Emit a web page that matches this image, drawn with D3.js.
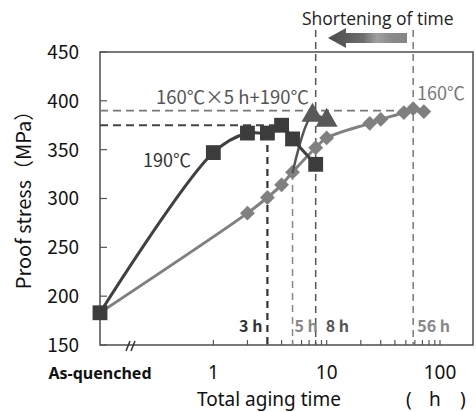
<!DOCTYPE html>
<html>
<head>
<meta charset="utf-8">
<title>Proof stress vs aging time</title>
<script src="https://cdn.jsdelivr.net/npm/d3@7"></script>
<style>
  body { margin: 0; background: #fff; }
  svg { font-family: "Noto Sans CJK JP", "Noto Sans", sans-serif; }
  .tick-label { font-size: 19px; fill: #111; }
  .latin { font-family: "Noto Sans", sans-serif; }
</style>
</head>
<body>
<div id="chart"></div>
<script>
// aging time in hours (0.1 = as-quenched position), proof stress in MPa
var t190 = [0.1, 1, 2, 3, 4, 5, 8];
var s190 = [183, 347, 367, 367, 375, 361, 335];

var t160 = [0.1, 2, 3, 4, 5, 8, 10, 24, 30, 48, 58, 72];
var s160 = [183, 285, 301, 314, 327, 352, 362, 377, 381, 388, 392, 389];

var tTwoStep = [5, 7.5, 10];
var sTwoStep = [326, 385, 380];

var yTicks = [150, 200, 250, 300, 350, 400, 450];
var xLabelValues = [0.1, 1, 10, 100];
var xLabelTexts = ["As-quenched", "1", "10", "100"];

var refLevels = [375, 390];
var markTimes = [3, 5, 8, 58];
var markLabels = ["3 h", "5 h", "8 h", "56 h"];

var W = 476, H = 412;
var pL = 100, pR = 473, pT = 52, pB = 345;

var x = d3.scaleLog().domain([0.1, 100]).range([100, 440]);
var y = d3.scaleLinear().domain([150, 450]).range([pB, pT]);

var svg = d3.select("#chart").append("svg")
    .attr("width", W)
    .attr("height", H);

var defs = svg.append("defs");
var grad = defs.append("linearGradient").attr("id", "arrowGrad");
grad.append("stop").attr("offset", "0%").attr("stop-color", "#4a4a4a");
grad.append("stop").attr("offset", "45%").attr("stop-color", "#6e6e6e");
grad.append("stop").attr("offset", "62%").attr("stop-color", "#a0a0a0");
grad.append("stop").attr("offset", "80%").attr("stop-color", "#8a8a8a");
grad.append("stop").attr("offset", "100%").attr("stop-color", "#858585");

// frame
svg.append("rect")
    .attr("x", pL).attr("y", pT)
    .attr("width", pR - pL).attr("height", pB - pT)
    .attr("fill", "none").attr("stroke", "#4d4d4d").attr("stroke-width", 1.5);

// y ticks (inside)
svg.selectAll(".ytick").data(yTicks).enter().append("line")
    .attr("x1", pL).attr("x2", pL + 7)
    .attr("y1", function(d) { return y(d); })
    .attr("y2", function(d) { return y(d); })
    .attr("stroke", "#555").attr("stroke-width", 1.2);

svg.selectAll(".ylab").data(yTicks).enter().append("text")
    .attr("class", "tick-label")
    .attr("x", 79)
    .attr("y", function(d) { return y(d); })
    .attr("dy", "0.36em")
    .attr("text-anchor", "end")
    .text(function(d) { return d; });

// x log ticks (inside), 1..100
var minor = [];
[1, 10].forEach(function(dec) {
    for (var k = 1; k < 10; k++) minor.push(dec * k);
});
minor.push(100);
svg.selectAll(".xtick").data(minor).enter().append("line")
    .attr("x1", function(d) { return x(d); })
    .attr("x2", function(d) { return x(d); })
    .attr("y1", pB).attr("y2", pB - 5)
    .attr("stroke", "#555").attr("stroke-width", 1.2);

// axis break
[0, 5].forEach(function(o) {
    svg.append("line")
        .attr("x1", 126 + o).attr("y1", 351)
        .attr("x2", 130 + o).attr("y2", 341)
        .attr("stroke", "#333").attr("stroke-width", 1.5);
});

svg.selectAll(".xlab").data(xLabelValues).enter().append("text")
    .attr("class", "latin")
    .attr("x", function(d) { return x(d); })
    .attr("y", 379)
    .attr("text-anchor", "middle")
    .style("font-size", function(d, i) { return i === 0 ? "16px" : "19px"; })
    .style("font-weight", function(d, i) { return i === 0 ? "bold" : "normal"; })
    .attr("fill", "#111")
    .text(function(d, i) { return xLabelTexts[i]; });

// axis titles
var xt = svg.append("text")
    .attr("class", "latin")
    .attr("y", 406)
    .style("font-size", "19px").attr("fill", "#111");
xt.append("tspan").attr("x", 197).text("Total aging time");
xt.append("tspan").attr("x", 406).text("(");
xt.append("tspan").attr("x", 429).text("h");
xt.append("tspan").attr("x", 460).text(")");

svg.append("text")
    .attr("transform", "translate(31,195) rotate(-90)")
    .attr("text-anchor", "middle")
    .style("font-size", "20px").attr("fill", "#111")
    .text("Proof stress（MPa）");

// reference dashed lines
var hEnd = [x(4), x(58)];
var hColor = ["#444", "#777"];
var hWidth = [2, 1.6];
svg.selectAll(".href").data(refLevels).enter().append("line")
    .attr("x1", pL).attr("x2", function(d, i) { return hEnd[i]; })
    .attr("y1", function(d) { return y(d); })
    .attr("y2", function(d) { return y(d); })
    .attr("stroke", function(d, i) { return hColor[i]; })
    .attr("stroke-width", function(d, i) { return hWidth[i]; })
    .attr("stroke-dasharray", "8,5");

var vTop = [y(367), y(326), 30, 30];
var vColor = ["#333", "#888", "#555", "#777"];
var vWidth = [2.2, 1.5, 1.5, 1.5];
svg.selectAll(".vref").data(markTimes).enter().append("line")
    .attr("x1", function(d) { return x(d); })
    .attr("x2", function(d) { return x(d); })
    .attr("y1", function(d, i) { return vTop[i]; })
    .attr("y2", pB)
    .attr("stroke", function(d, i) { return vColor[i]; })
    .attr("stroke-width", function(d, i) { return vWidth[i]; })
    .attr("stroke-dasharray", "7,5");

var lblDx = [-5, 2, 10, 4];
var lblAnchor = ["end", "start", "start", "start"];
var lblColor = ["#333", "#888", "#555", "#888"];
svg.selectAll(".vlab").data(markTimes).enter().append("text")
    .attr("x", function(d, i) { return x(d) + lblDx[i]; })
    .attr("y", 332)
    .attr("text-anchor", function(d, i) { return lblAnchor[i]; })
    .style("font-size", "16px").style("font-weight", "bold")
    .attr("fill", function(d, i) { return lblColor[i]; })
    .text(function(d, i) { return markLabels[i]; });

// series
var line = d3.line()
    .curve(d3.curveCatmullRom.alpha(0.5))
    .x(function(d) { return x(d[0]); })
    .y(function(d) { return y(d[1]); });

var d160 = d3.zip(t160, s160);
var d190 = d3.zip(t190, s190);
var dTwo = d3.zip(tTwoStep, sTwoStep);

svg.append("path").attr("d", line(d160))
    .attr("fill", "none").attr("stroke", "#808080").attr("stroke-width", 3);
svg.selectAll(".dia").data(d160).enter().append("path")
    .attr("d", d3.symbol().type(d3.symbolSquare).size(110))
    .attr("transform", function(d) { return "translate(" + x(d[0]) + "," + y(d[1]) + ") rotate(45)"; })
    .attr("fill", "#808080");

svg.append("path").attr("d", line(dTwo))
    .attr("fill", "none").attr("stroke", "#555").attr("stroke-width", 2.5);
svg.selectAll(".tri").data(dTwo.slice(1)).enter().append("path")
    .attr("d", d3.symbol().type(d3.symbolTriangle).size(210))
    .attr("transform", function(d) { return "translate(" + x(d[0]) + "," + y(d[1]) + ")"; })
    .attr("fill", "#595959");

svg.append("path").attr("d", line(d190))
    .attr("fill", "none").attr("stroke", "#404040").attr("stroke-width", 3);
svg.selectAll(".sq").data(d190).enter().append("path")
    .attr("d", d3.symbol().type(d3.symbolSquare).size(220))
    .attr("transform", function(d) { return "translate(" + x(d[0]) + "," + y(d[1]) + ")"; })
    .attr("fill", "#3c3c3c");

// annotations
svg.append("text").attr("x", 143).attr("y", 167)
    .style("font-size", "18px").attr("fill", "#333").text("190℃");
svg.append("text").attr("x", 156).attr("y", 104)
    .style("font-size", "18.5px").attr("fill", "#555").text("160℃×5 h+190℃");
svg.append("text").attr("x", 417).attr("y", 100)
    .style("font-size", "18px").attr("fill", "#777").text("160℃");

svg.append("text").attr("x", 302).attr("y", 25)
    .style("font-family", "'Open Sans', sans-serif")
    .style("font-size", "17.5px").attr("fill", "#222")
    .text("Shortening of time");

svg.append("path")
    .attr("d", "M328,38 L346,28 L346,33 L407,33 L407,43 L346,43 L346,48 Z")
    .attr("fill", "url(#arrowGrad)");
</script>
</body>
</html>
